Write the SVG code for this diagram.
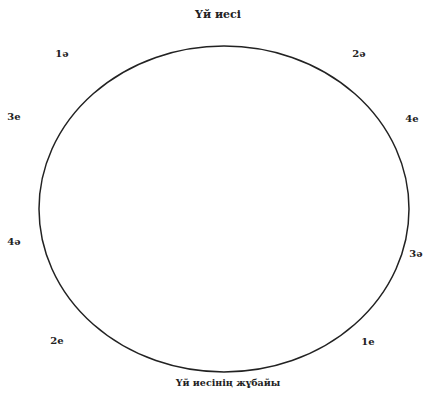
<svg xmlns="http://www.w3.org/2000/svg" width="424" height="397" viewBox="0 0 424 397">
<style>
.lbl{font-family:"DejaVu Serif","Liberation Serif",serif;font-weight:bold;font-size:10px;fill:#222}
.ttl{font-family:"DejaVu Serif","Liberation Serif",serif;font-weight:bold;fill:#222}
.ring{fill:none;stroke:#222;stroke-width:1.5}
</style>
<rect width="424" height="397" fill="#fff"/>
<g id="connectors">
<ellipse class="ring" cx="224" cy="209" rx="185" ry="163"/>
</g>
<g id="top"><text class="ttl" x="218" y="18" font-size="11" text-anchor="middle">Үй иесі</text></g>
<g id="bottom"><text class="ttl" x="228" y="386" font-size="9.5" text-anchor="middle">Үй иесінің жұбайы</text></g>
<g id="n1a"><text class="lbl" x="62" y="57" text-anchor="middle">1ә</text></g>
<g id="n2a"><text class="lbl" x="359" y="57" text-anchor="middle">2ә</text></g>
<g id="n3e"><text class="lbl" x="14" y="120" text-anchor="middle">3е</text></g>
<g id="n4e"><text class="lbl" x="412" y="122" text-anchor="middle">4е</text></g>
<g id="n4a"><text class="lbl" x="14" y="245" text-anchor="middle">4ә</text></g>
<g id="n3a"><text class="lbl" x="416" y="257" text-anchor="middle">3ә</text></g>
<g id="n2e"><text class="lbl" x="57" y="344" text-anchor="middle">2е</text></g>
<g id="n1e"><text class="lbl" x="368" y="345" text-anchor="middle">1е</text></g>
</svg>
